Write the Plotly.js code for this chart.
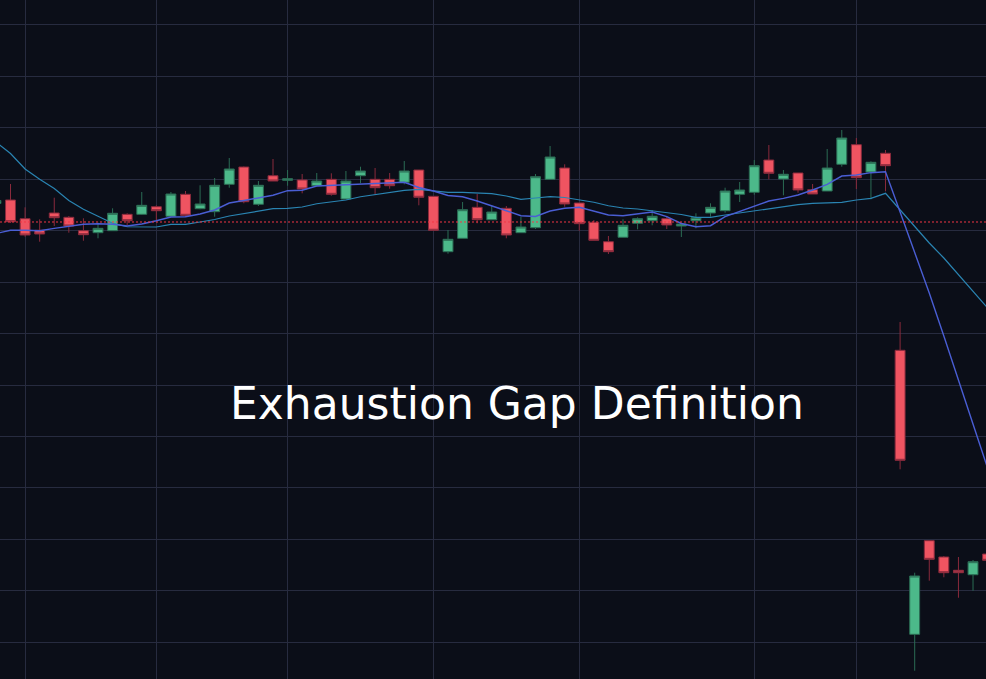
<!DOCTYPE html>
<html>
<head>
<meta charset="utf-8">
<script src="https://cdn.plot.ly/plotly-3.0.1.min.js"></script>
<style>
  html, body { margin: 0; padding: 0; background: #0b0e18; }
  #chart { width: 986px; height: 679px; }
</style>
</head>
<body>
<div id="chart"></div>
<script>
// ---- data ----
const bars = [-1,0,1,2,3,4,5,6,7,8,9,10,11,12,13,14,15,16,17,18,19,20,21,22,23,24,25,26,27,28,29,30,31,32,33,34,35,36,37,38,39,40,41,42,43,44,45,46,47,48,49,50,51,52,53,54,55,56,57,58,59,60,61,62,63,64,65,66,67];

const openP  = [106.526,106.594,106.231,106.006,106.342,106.258,105.998,105.959,105.998,106.316,106.316,106.464,106.278,106.705,106.425,106.367,106.899,107.235,106.511,107.066,106.977,106.983,106.872,106.996,106.614,107.066,106.996,106.996,106.938,107.177,106.666,105.590,105.850,106.452,106.211,106.433,105.959,106.056,106.996,107.216,106.536,106.161,105.784,105.870,106.142,106.192,106.231,106.089,106.192,106.342,106.386,106.705,106.744,107.371,107.002,107.119,106.794,106.769,107.288,107.669,107.138,107.502,103.674,98.156,99.975,99.658,99.400,99.314,99.716];
const highP  = [106.614,106.905,106.452,106.219,106.639,106.283,106.239,106.153,106.433,106.336,106.750,106.491,106.750,106.769,106.880,107.022,107.410,107.245,106.963,107.391,107.177,107.099,107.119,107.113,107.158,107.241,107.216,107.119,107.352,107.177,106.672,106.011,106.555,106.711,106.491,106.478,106.264,107.099,107.643,107.288,106.536,106.206,105.895,106.219,106.258,106.400,106.270,106.153,106.336,106.530,106.833,106.944,107.371,107.663,107.177,107.119,106.905,107.585,107.954,107.799,107.346,107.566,104.224,99.353,99.975,99.678,99.658,99.600,99.775];
const lowP   = [106.497,106.147,105.881,105.784,106.089,105.959,105.803,105.850,105.998,106.109,106.303,106.206,106.278,106.270,106.414,106.270,106.833,106.530,106.478,106.963,106.872,106.724,106.872,106.678,106.614,106.919,106.691,106.814,106.899,106.491,105.992,105.551,105.850,106.142,106.211,105.850,105.959,106.031,106.996,106.464,105.998,105.811,105.545,105.870,106.025,106.103,106.031,105.875,106.044,106.270,106.348,106.555,106.697,106.996,106.686,106.736,106.711,106.769,107.241,106.808,106.608,106.763,101.362,97.449,99.198,99.264,98.867,99.003,99.542];
const closeP = [106.585,106.173,105.914,105.934,106.250,106.089,105.920,106.044,106.336,106.192,106.491,106.386,106.711,106.297,106.517,106.880,107.197,106.561,106.880,106.963,107.008,106.808,106.963,106.705,106.963,107.158,106.833,106.872,107.158,106.647,106.006,105.831,106.406,106.211,106.361,105.914,106.070,107.047,107.430,106.517,106.134,105.811,105.590,106.103,106.231,106.278,106.109,106.128,106.250,106.452,106.769,106.789,107.261,107.113,107.094,106.789,106.711,107.216,107.799,107.028,107.327,107.261,101.537,99.289,99.613,99.353,99.353,99.567,99.594];

const maFast = [105.943,106.006,106.006,105.998,106.044,106.089,106.122,106.134,106.122,106.089,106.128,106.192,106.264,106.270,106.322,106.400,106.536,106.585,106.639,106.686,106.775,106.783,106.866,106.876,106.893,106.899,106.911,106.924,106.938,106.837,106.769,106.682,106.658,106.575,106.487,106.386,106.289,106.274,106.380,106.435,106.452,106.380,106.303,106.289,106.322,106.361,106.270,106.138,106.075,106.095,106.270,106.367,106.478,106.575,106.627,106.691,106.789,106.899,107.060,107.080,107.125,107.144,106.361,105.584,104.787,103.952,103.097,102.223,101.387];
const maSlow = [107.721,107.498,107.197,106.996,106.818,106.585,106.414,106.283,106.142,106.075,106.070,106.070,106.122,106.122,106.167,106.215,106.283,106.332,106.371,106.425,106.433,106.458,106.522,106.565,106.594,106.658,106.701,106.740,106.783,106.802,106.769,106.744,106.744,106.724,106.717,106.672,106.608,106.633,106.658,106.643,106.594,106.550,106.483,106.439,106.419,106.386,106.348,106.313,106.258,106.258,106.303,106.342,106.386,106.429,106.464,106.503,106.530,106.536,106.550,106.594,106.627,106.724,106.400,106.089,105.759,105.467,105.137,104.807,104.496];

const gridBars   = [1, 10, 19, 29, 39, 51, 58];
const priceTicks = [98, 99, 100, 101, 102, 103, 104, 105, 106, 107, 108, 109, 110];
const refLevel   = 106.167;
const titleText  = "Exhaustion Gap Definition";

// ---- chart ----
const bg = '#0b0e18';
const gridColor = '#272b3f';

const traces = [
  {
    type: 'scatter', mode: 'lines', x: bars, y: maSlow,
    line: { color: '#2a84b2', width: 1.2 }, hoverinfo: 'skip'
  },
  {
    type: 'scatter', mode: 'lines', x: bars, y: maFast,
    line: { color: '#4a5ed4', width: 1.4 }, hoverinfo: 'skip'
  },
  {
    type: 'candlestick', x: bars,
    open: openP, high: highP, low: lowP, close: closeP,
    increasing: { fillcolor: '#4cb98a', line: { color: '#2b6c54', width: 1 } },
    decreasing: { fillcolor: '#ef5461', line: { color: '#8a2a3c', width: 1 } },
    whiskerwidth: 0
  }
];

const layout = {
  width: 986, height: 679,
  margin: { l: 0, r: 0, t: 0, b: 0, pad: 0 },
  paper_bgcolor: bg, plot_bgcolor: bg,
  showlegend: false,
  boxgap: 0.15, boxgroupgap: 0.2,
  xaxis: {
    range: [-0.72, 66.89],
    tickmode: 'array', tickvals: gridBars,
    showticklabels: false, ticks: '',
    showgrid: true, gridcolor: gridColor, gridwidth: 1,
    zeroline: false, showline: false,
    rangeslider: { visible: false }
  },
  yaxis: {
    range: [97.288, 110.480],
    tickmode: 'array', tickvals: priceTicks,
    showticklabels: false, ticks: '',
    showgrid: true, gridcolor: gridColor, gridwidth: 1,
    zeroline: false, showline: false
  },
  shapes: [
    {
      type: 'line', xref: 'paper', x0: 0, x1: 1,
      yref: 'y', y0: refLevel, y1: refLevel,
      line: { color: '#f23645', width: 1, dash: '2px,2px' },
      layer: 'above'
    }
  ],
  annotations: [
    {
      text: titleText, xref: 'paper', yref: 'paper',
      x: 0.5245, y: 0.406, xanchor: 'center', yanchor: 'middle',
      showarrow: false,
      font: { family: 'DejaVu Sans', size: 44, color: '#ffffff' }
    }
  ]
};

Plotly.newPlot('chart', traces, layout, { staticPlot: true, displayModeBar: false });
</script>
</body>
</html>
